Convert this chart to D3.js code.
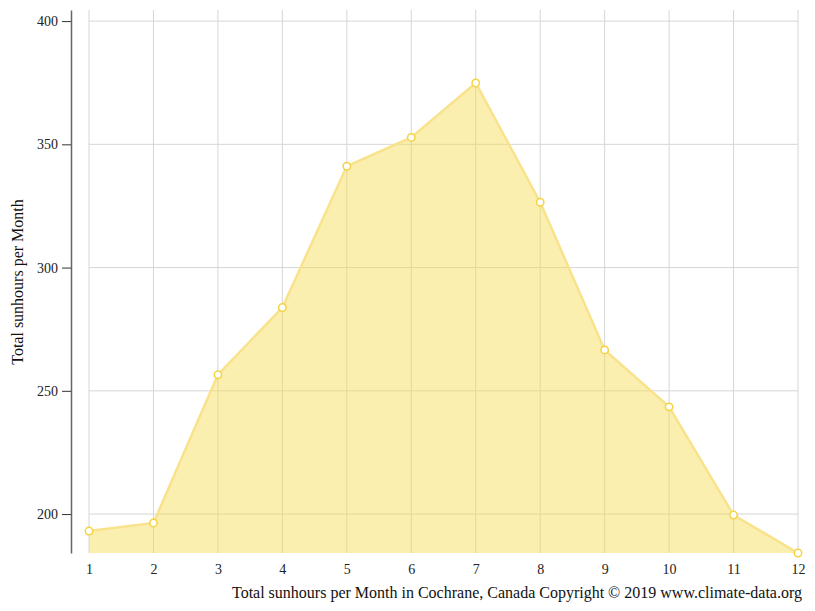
<!DOCTYPE html>
<html>
<head>
<meta charset="utf-8">
<script src="https://cdn.jsdelivr.net/npm/d3@7"></script>
<style>
  body { margin: 0; background: #fff; }
  svg { font-family: "Liberation Serif", "Times New Roman", serif; }
</style>
</head>
<body>
<svg id="chart" width="815" height="611"></svg>
<script>
// data
const months = [1, 2, 3, 4, 5, 6, 7, 8, 9, 10, 11, 12];
const sunhours = [193.1, 196.4, 256.5, 283.8, 341.1, 352.8, 374.9, 326.5, 266.6, 243.5, 199.6, 184.2];
const yTicks = [200, 250, 300, 350, 400];
const title = "Total sunhours per Month in Cochrane, Canada Copyright © 2019 www.climate-data.org";
const yLabel = "Total sunhours per Month";

const svg = d3.select("#chart");

const x = d3.scaleLinear().domain([1, 12]).range([89, 798]);
const y = d3.scaleLinear().domain([184.2, 404.5]).range([553, 10]);

// grid
svg.append("g")
    .selectAll("line")
    .data(months)
    .join("line")
    .attr("x1", d => x(d)).attr("x2", d => x(d))
    .attr("y1", 10).attr("y2", 553)
    .attr("stroke", "#d6d6d6").attr("stroke-width", 1);

svg.append("g")
    .selectAll("line")
    .data(yTicks)
    .join("line")
    .attr("x1", x(1)).attr("x2", x(12))
    .attr("y1", d => y(d)).attr("y2", d => y(d))
    .attr("stroke", "#d6d6d6").attr("stroke-width", 1);

const data = months.map((m, i) => ({ m: m, v: sunhours[i] }));

// area + line
const area = d3.area().x(d => x(d.m)).y0(553).y1(d => y(d.v));
const line = d3.line().x(d => x(d.m)).y(d => y(d.v));

svg.append("path")
    .datum(data)
    .attr("fill", "rgb(247,220,80)")
    .attr("fill-opacity", 0.45)
    .attr("d", area);

svg.append("path")
    .datum(data)
    .attr("fill", "none")
    .attr("stroke", "#f8e38c")
    .attr("stroke-width", 2.5)
    .attr("d", line);

svg.append("g")
    .selectAll("circle")
    .data(data)
    .join("circle")
    .attr("cx", d => x(d.m))
    .attr("cy", d => y(d.v))
    .attr("r", 3.7)
    .attr("fill", "#fff")
    .attr("stroke", "#f5d340")
    .attr("stroke-width", 1.5);

// y axis
const yAxis = svg.append("g")
    .attr("transform", "translate(71,0)")
    .call(d3.axisLeft(y).tickValues(yTicks).tickSize(9).tickSizeOuter(0).tickPadding(4));
yAxis.attr("font-size", null).attr("font-family", null);
yAxis.select(".domain").attr("stroke", "#666").attr("stroke-width", 1.5);
yAxis.selectAll(".tick line").attr("stroke", "#333");
yAxis.selectAll("text")
    .style("font-size", "14px")
    .attr("fill", "#222");

// x axis labels (no line)
const xAxis = svg.append("g")
    .attr("transform", "translate(0,553)")
    .call(d3.axisBottom(x).tickValues(months).tickFormat(d3.format("d")).tickSize(0).tickPadding(11));
xAxis.attr("font-size", null).attr("font-family", null);
xAxis.select(".domain").remove();
xAxis.selectAll("text")
    .style("font-size", "14px")
    .attr("fill", "#222");

// labels
svg.append("text")
    .attr("x", 802)
    .attr("y", 598)
    .attr("text-anchor", "end")
    .style("font-size", "16px")
    .attr("fill", "#111")
    .text(title);

svg.append("text")
    .attr("transform", "rotate(-90)")
    .attr("x", -282)
    .attr("y", 23)
    .attr("text-anchor", "middle")
    .style("font-size", "16px")
    .attr("fill", "#111")
    .text(yLabel);
</script>
</body>
</html>
